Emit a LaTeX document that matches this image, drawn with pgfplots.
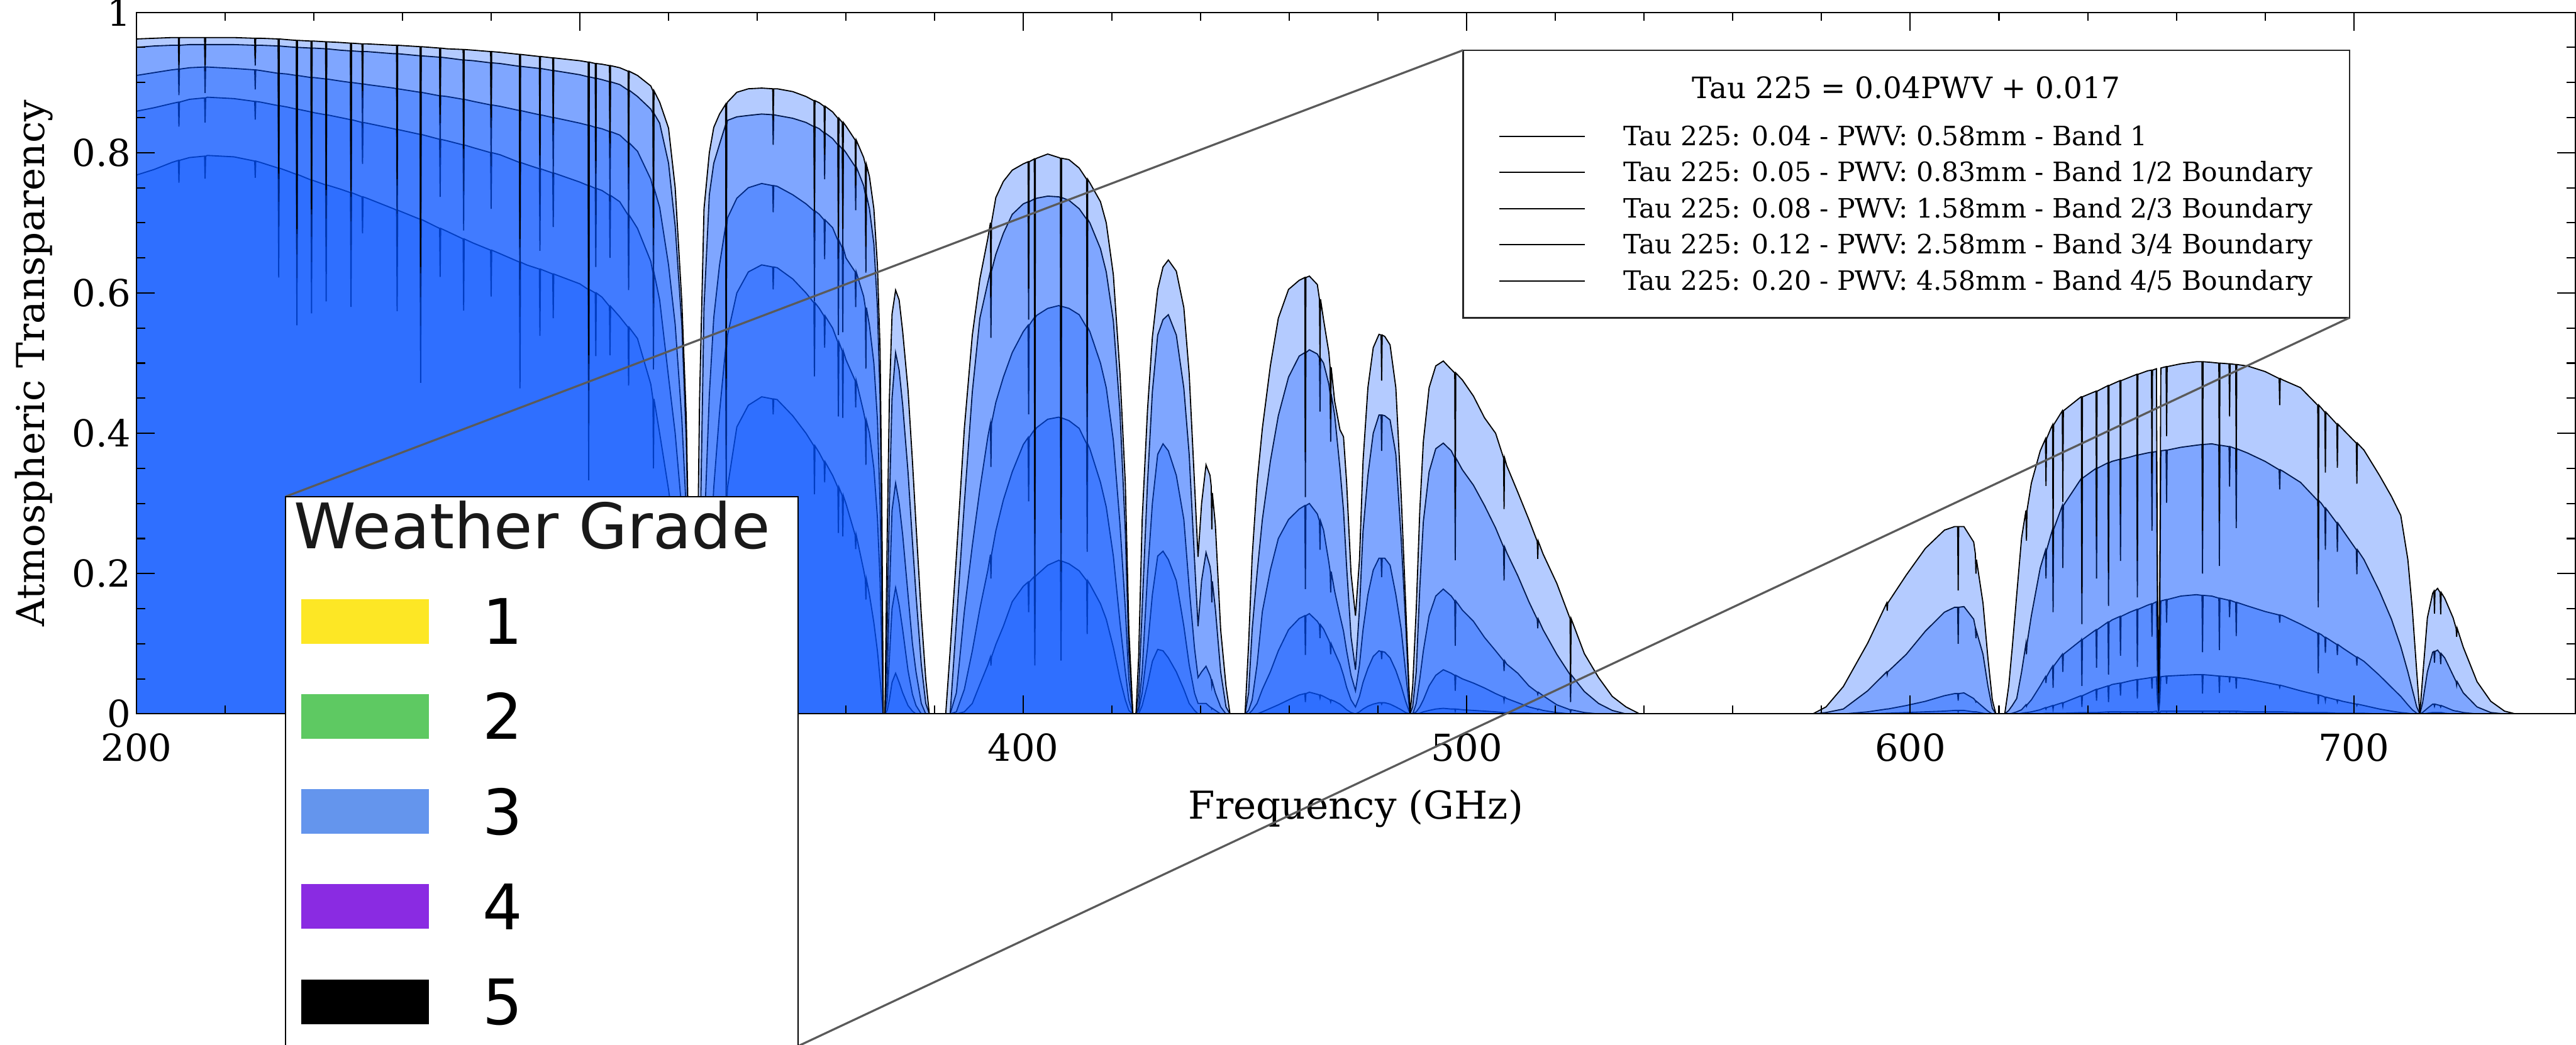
\documentclass[border=0pt]{standalone}
\usepackage{fontspec}
\setmainfont{DejaVu Serif}
\newfontfamily\insetfont{DejaVu Sans}
\usepackage{pgfplots}
\usepackage{pgfplotstable}
\pgfplotsset{compat=1.18}
\definecolor{fillblue}{RGB}{5,82,255}
\definecolor{zoomgray}{RGB}{90,90,90}
\definecolor{wgA}{RGB}{253,231,37}
\definecolor{wgB}{RGB}{94,201,98}
\definecolor{wgC}{RGB}{100,149,237}
\definecolor{wgD}{RGB}{138,43,226}
\pgfplotstableread{
f c1 c2 c3 c4 c5
200 0.962 0.950 0.910 0.859 0.768
204 0.963 0.952 0.914 0.864 0.776
208 0.964 0.953 0.918 0.870 0.786
209.48 0.964 0.953 0.919 0.872 0.789
209.6 0.925 0.915 0.882 0.837 0.757
209.72 0.964 0.953 0.919 0.872 0.789
212 0.964 0.954 0.921 0.876 0.793
215.38 0.964 0.954 0.922 0.878 0.795
215.5 0.925 0.916 0.885 0.843 0.763
215.62 0.964 0.954 0.922 0.878 0.795
216 0.964 0.954 0.922 0.879 0.796
222 0.964 0.954 0.920 0.877 0.794
226.68 0.963 0.953 0.918 0.873 0.788
226.8 0.934 0.924 0.890 0.847 0.764
226.92 0.963 0.953 0.918 0.873 0.788
228 0.963 0.953 0.917 0.872 0.786
231.98 0.962 0.952 0.913 0.867 0.778
232.1 0.770 0.762 0.730 0.694 0.622
232.22 0.962 0.952 0.913 0.867 0.778
234 0.961 0.951 0.912 0.865 0.774
236.08 0.960 0.950 0.910 0.862 0.769
236.2 0.691 0.684 0.655 0.621 0.554
236.32 0.960 0.950 0.910 0.862 0.769
239.38 0.959 0.949 0.907 0.858 0.761
239.5 0.719 0.712 0.680 0.644 0.571
239.62 0.959 0.949 0.907 0.858 0.761
240 0.959 0.949 0.907 0.857 0.760
242.68 0.958 0.948 0.905 0.854 0.754
242.8 0.747 0.739 0.706 0.666 0.588
242.92 0.958 0.948 0.905 0.854 0.754
246 0.957 0.946 0.902 0.850 0.748
248.28 0.956 0.945 0.900 0.847 0.743
248.4 0.746 0.737 0.702 0.661 0.580
248.52 0.956 0.945 0.900 0.847 0.743
250.88 0.955 0.944 0.898 0.843 0.737
251 0.888 0.878 0.835 0.784 0.685
251.12 0.955 0.944 0.898 0.843 0.737
252 0.955 0.944 0.897 0.842 0.735
258 0.953 0.941 0.892 0.834 0.720
258.68 0.953 0.941 0.891 0.833 0.718
258.8 0.762 0.753 0.713 0.666 0.574
258.92 0.953 0.941 0.891 0.833 0.718
263.98 0.951 0.938 0.886 0.826 0.705
264.1 0.637 0.628 0.594 0.553 0.472
264.22 0.951 0.938 0.886 0.826 0.705
268.38 0.949 0.936 0.881 0.819 0.692
268.5 0.854 0.842 0.793 0.737 0.623
268.62 0.949 0.936 0.881 0.819 0.692
270 0.948 0.935 0.880 0.817 0.688
273.68 0.947 0.932 0.876 0.811 0.677
273.8 0.805 0.792 0.745 0.689 0.575
273.92 0.947 0.932 0.876 0.811 0.677
276 0.946 0.931 0.873 0.807 0.671
279.88 0.944 0.928 0.868 0.800 0.661
280 0.850 0.835 0.781 0.720 0.595
280.12 0.944 0.928 0.868 0.800 0.661
282 0.943 0.927 0.866 0.797 0.656
286.38 0.940 0.923 0.860 0.786 0.644
286.5 0.677 0.665 0.619 0.566 0.464
286.62 0.940 0.923 0.860 0.786 0.644
288 0.939 0.922 0.858 0.783 0.640
290.88 0.937 0.920 0.854 0.777 0.634
291 0.796 0.782 0.726 0.660 0.539
291.12 0.937 0.920 0.854 0.777 0.634
293.88 0.935 0.917 0.850 0.771 0.627
294 0.842 0.825 0.765 0.694 0.564
294.12 0.935 0.917 0.850 0.771 0.627
300 0.931 0.911 0.842 0.758 0.613
301.88 0.929 0.908 0.839 0.753 0.605
302 0.511 0.499 0.461 0.414 0.333
302.12 0.929 0.908 0.839 0.753 0.605
303.48 0.927 0.906 0.836 0.749 0.600
303.6 0.788 0.770 0.711 0.637 0.510
303.72 0.927 0.906 0.836 0.749 0.600
305 0.926 0.904 0.834 0.746 0.594
306.68 0.924 0.901 0.830 0.739 0.581
306.8 0.813 0.793 0.730 0.650 0.511
306.92 0.924 0.901 0.830 0.739 0.581
309 0.921 0.897 0.825 0.730 0.566
310.88 0.916 0.889 0.814 0.711 0.551
311 0.779 0.756 0.692 0.604 0.468
311.12 0.916 0.889 0.814 0.711 0.551
313 0.910 0.880 0.802 0.692 0.535
316 0.895 0.862 0.762 0.645 0.470
316.48 0.888 0.856 0.750 0.629 0.449
316.6 0.693 0.668 0.585 0.491 0.350
316.72 0.888 0.856 0.750 0.629 0.449
318 0.872 0.842 0.722 0.590 0.400
320 0.835 0.785 0.640 0.480 0.320
321.5 0.750 0.695 0.555 0.400 0.250
323 0.587 0.554 0.420 0.290 0.160
324 0.422 0.389 0.290 0.180 0.090
324.8 0.157 0.140 0.100 0.060 0.030
325.3 0 0 0 0 0
326.1 0 0 0 0 0
327 0.450 0.200 0 0 0
328 0.720 0.580 0.250 0.030 0
329.2 0.800 0.740 0.455 0.200 0.020
330.2 0.836 0.785 0.565 0.323 0.058
331.5 0.855 0.812 0.640 0.430 0.180
332.88 0.869 0.840 0.696 0.522 0.299
333 0.478 0.462 0.383 0.287 0.164
333.12 0.869 0.840 0.696 0.522 0.299
333.3 0.872 0.846 0.707 0.540 0.323
335.4 0.886 0.851 0.735 0.600 0.409
338 0.891 0.853 0.750 0.630 0.440
341 0.892 0.855 0.756 0.640 0.452
343.48 0.891 0.854 0.753 0.637 0.449
343.6 0.846 0.811 0.715 0.605 0.427
343.72 0.891 0.854 0.753 0.637 0.449
344.5 0.891 0.853 0.752 0.636 0.448
348 0.887 0.849 0.740 0.620 0.425
351 0.880 0.843 0.727 0.600 0.400
352.78 0.874 0.837 0.717 0.586 0.382
352.9 0.717 0.686 0.588 0.481 0.313
353.02 0.874 0.837 0.717 0.586 0.382
354 0.871 0.834 0.712 0.578 0.372
355.08 0.866 0.828 0.704 0.567 0.359
355.2 0.797 0.762 0.648 0.522 0.330
355.32 0.866 0.828 0.704 0.567 0.359
357 0.858 0.820 0.693 0.550 0.340
358.18 0.849 0.811 0.675 0.530 0.323
358.3 0.679 0.649 0.540 0.424 0.258
358.42 0.849 0.811 0.675 0.530 0.323
359.18 0.843 0.805 0.664 0.517 0.311
359.3 0.691 0.660 0.544 0.422 0.253
359.42 0.843 0.805 0.664 0.517 0.311
360 0.838 0.800 0.650 0.505 0.300
362.08 0.818 0.780 0.630 0.475 0.255
362.2 0.753 0.718 0.580 0.437 0.235
362.32 0.818 0.780 0.630 0.475 0.255
364 0.793 0.753 0.595 0.430 0.205
364.38 0.783 0.740 0.579 0.418 0.192
364.5 0.666 0.629 0.492 0.355 0.163
364.62 0.783 0.740 0.579 0.418 0.192
365.3 0.766 0.720 0.554 0.400 0.170
366.3 0.720 0.670 0.500 0.350 0.130
367.1 0.640 0.580 0.420 0.280 0.090
367.7 0.520 0.450 0.300 0.190 0.050
368.1 0.300 0.250 0.160 0.090 0.020
368.4 0 0 0 0 0
368.8 0 0 0 0 0
369.3 0.250 0.120 0.050 0.020 0.005
369.8 0.450 0.300 0.170 0.080 0.020
370.4 0.570 0.450 0.290 0.150 0.045
371.2 0.604 0.515 0.329 0.180 0.058
372 0.590 0.490 0.300 0.155 0.045
372.8 0.545 0.440 0.255 0.120 0.030
374 0.462 0.345 0.170 0.062 0.012
375 0.360 0.245 0.100 0.028 0.004
375.8 0.270 0.170 0.060 0.012 0
377 0.140 0.070 0.015 0 0
378 0.050 0.015 0 0 0
378.8 0 0 0 0 0
382.5 0 0 0 0 0
383.5 0.090 0 0 0 0
384.9 0.224 0.130 0.030 0.003 0
386.7 0.407 0.300 0.146 0.035 0.003
388.5 0.540 0.459 0.240 0.090 0.015
390.2 0.620 0.564 0.320 0.150 0.042
392 0.678 0.615 0.395 0.205 0.070
392.58 0.700 0.631 0.414 0.227 0.081
392.7 0.595 0.536 0.352 0.193 0.069
392.82 0.700 0.631 0.414 0.227 0.081
393.8 0.736 0.655 0.444 0.261 0.099
395.5 0.759 0.685 0.480 0.305 0.125
397.5 0.775 0.712 0.515 0.345 0.160
400 0.784 0.727 0.545 0.384 0.182
401.08 0.787 0.730 0.554 0.394 0.188
401.2 0.606 0.562 0.427 0.303 0.145
401.32 0.787 0.730 0.554 0.394 0.188
402.48 0.791 0.734 0.565 0.405 0.196
402.6 0.277 0.257 0.198 0.142 0.069
402.72 0.791 0.734 0.565 0.405 0.196
403 0.792 0.735 0.568 0.408 0.198
405.5 0.798 0.738 0.578 0.420 0.212
408 0.793 0.737 0.582 0.423 0.219
408.38 0.792 0.736 0.581 0.422 0.218
408.5 0.277 0.258 0.203 0.148 0.076
408.62 0.792 0.736 0.581 0.422 0.218
410.3 0.790 0.732 0.578 0.418 0.214
412.6 0.778 0.720 0.569 0.407 0.204
414.28 0.762 0.705 0.551 0.385 0.190
414.4 0.457 0.423 0.331 0.231 0.114
414.52 0.762 0.705 0.551 0.385 0.190
415 0.757 0.700 0.545 0.378 0.185
417.4 0.730 0.663 0.500 0.330 0.157
418.7 0.700 0.630 0.465 0.295 0.135
420.3 0.626 0.560 0.390 0.225 0.095
421.8 0.485 0.430 0.270 0.130 0.050
423 0.329 0.260 0.150 0.060 0.020
423.8 0.120 0.090 0.050 0.020 0.005
424.7 0 0 0 0 0
425.4 0 0 0 0 0
426 0.080 0.030 0.010 0.005 0
426.8 0.277 0.150 0.060 0.030 0.012
428 0.433 0.329 0.198 0.094 0.042
429.1 0.537 0.459 0.300 0.170 0.075
430.3 0.605 0.540 0.370 0.225 0.092
431.5 0.637 0.562 0.385 0.232 0.090
432.7 0.647 0.569 0.375 0.220 0.080
434.5 0.631 0.540 0.340 0.190 0.060
436.2 0.579 0.464 0.277 0.125 0.035
437.4 0.485 0.370 0.180 0.070 0.015
438.6 0.329 0.220 0.094 0.030 0.005
439.4 0.224 0.125 0.052 0.015 0
440.2 0.300 0.190 0.060 0.015 0
441.2 0.355 0.230 0.068 0.015 0
442.1 0.340 0.210 0.055 0.010 0
442.38 0.324 0.196 0.049 0.009 0
442.5 0.263 0.159 0.040 0.007 0
442.62 0.315 0.189 0.046 0.008 0
443.3 0.270 0.150 0.030 0.005 0
444.5 0.120 0.060 0.010 0 0
445.7 0.040 0.010 0 0 0
446.6 0 0 0 0 0
450 0 0 0 0 0
450.8 0.100 0.030 0.005 0 0
451.6 0.224 0.120 0.020 0.005 0
452.7 0.329 0.200 0.070 0.015 0
453.9 0.407 0.277 0.146 0.035 0.003
455.7 0.496 0.360 0.205 0.060 0.008
457.5 0.564 0.425 0.250 0.090 0.013
459.8 0.605 0.480 0.277 0.120 0.020
462.2 0.618 0.510 0.292 0.136 0.027
463.48 0.622 0.515 0.297 0.140 0.029
463.6 0.373 0.309 0.178 0.084 0.017
463.72 0.622 0.515 0.297 0.140 0.029
464.5 0.624 0.519 0.300 0.143 0.031
466.3 0.612 0.513 0.285 0.132 0.028
466.78 0.591 0.507 0.275 0.127 0.027
466.9 0.502 0.431 0.234 0.108 0.023
467.02 0.591 0.507 0.275 0.127 0.027
467.7 0.562 0.500 0.262 0.121 0.025
468.9 0.515 0.470 0.216 0.105 0.021
469.18 0.494 0.456 0.203 0.100 0.020
469.3 0.420 0.388 0.173 0.085 0.017
469.42 0.494 0.456 0.203 0.100 0.020
470.2 0.446 0.426 0.175 0.088 0.018
471.4 0.405 0.350 0.140 0.071 0.014
472.2 0.395 0.290 0.118 0.055 0.010
472.9 0.330 0.210 0.090 0.038 0.006
473.9 0.200 0.110 0.055 0.020 0.002
474.9 0.140 0.063 0.033 0.010 0
475.8 0.220 0.150 0.070 0.025 0.003
476.6 0.360 0.260 0.120 0.045 0.007
477.7 0.465 0.340 0.170 0.065 0.011
478.9 0.522 0.400 0.205 0.082 0.014
480.2 0.541 0.426 0.222 0.090 0.016
480.68 0.540 0.426 0.222 0.089 0.016
480.8 0.475 0.375 0.195 0.078 0.014
480.92 0.540 0.426 0.222 0.089 0.016
481.5 0.538 0.425 0.222 0.088 0.016
482.7 0.526 0.419 0.212 0.080 0.014
484 0.465 0.370 0.170 0.062 0.010
485.2 0.312 0.250 0.121 0.040 0.006
486.2 0.159 0.130 0.060 0.018 0.002
487.2 0 0 0 0 0
487.8 0.040 0.010 0 0 0
488.6 0.150 0.060 0.015 0.003 0
489.4 0.290 0.180 0.050 0.010 0.001
490.2 0.388 0.274 0.090 0.020 0.003
491.5 0.465 0.345 0.140 0.040 0.005
493 0.496 0.378 0.168 0.055 0.007
494.7 0.503 0.386 0.178 0.063 0.008
496.5 0.491 0.375 0.168 0.058 0.007
497.28 0.486 0.365 0.161 0.055 0.007
497.4 0.292 0.219 0.097 0.033 0.004
497.52 0.486 0.365 0.161 0.055 0.007
499 0.476 0.348 0.148 0.050 0.006
501.5 0.453 0.326 0.132 0.044 0.005
504 0.422 0.297 0.109 0.037 0.004
506.5 0.400 0.265 0.090 0.029 0.003
508.28 0.365 0.238 0.076 0.024 0.002
508.4 0.292 0.190 0.061 0.019 0.002
508.52 0.365 0.238 0.076 0.024 0.002
509 0.354 0.230 0.071 0.022 0.002
511.5 0.316 0.197 0.058 0.016 0.001
514 0.277 0.160 0.040 0.010 0.001
515.88 0.246 0.135 0.031 0.007 0
516 0.221 0.122 0.028 0.006 0
516.12 0.246 0.135 0.031 0.007 0
517.2 0.228 0.120 0.026 0.005 0
520.3 0.186 0.085 0.013 0.002 0
523.28 0.136 0.056 0.006 0 0
523.4 0.041 0.017 0.002 0 0
523.52 0.136 0.056 0.006 0 0
526.5 0.086 0.032 0.002 0 0
529.7 0.052 0.015 0 0 0
532.8 0.025 0.005 0 0 0
535.9 0.010 0 0 0 0
539 0 0 0 0 0
578 0 0 0 0 0
581 0.010 0.002 0 0 0
584.9 0.039 0.007 0 0 0
590.4 0.101 0.033 0.003 0 0
594.68 0.158 0.060 0.007 0.001 0
594.8 0.147 0.056 0.007 0.001 0
594.92 0.158 0.060 0.007 0.001 0
599.1 0.198 0.085 0.012 0.002 0
603.4 0.236 0.118 0.018 0.003 0
607.7 0.262 0.145 0.026 0.004 0
610 0.267 0.152 0.029 0.005 0
610.68 0.267 0.152 0.029 0.005 0
610.8 0.176 0.100 0.019 0.003 0
610.92 0.267 0.152 0.029 0.005 0
612.1 0.267 0.153 0.030 0.005 0
614.3 0.245 0.135 0.022 0.003 0
614.68 0.228 0.123 0.019 0.003 0
614.8 0.200 0.108 0.017 0.003 0
614.92 0.220 0.118 0.018 0.003 0
616.4 0.158 0.085 0.010 0.001 0
617.5 0.080 0.040 0.004 0 0
618.5 0.020 0.008 0 0 0
619.3 0 0 0 0 0
621.3 0 0 0 0 0
622.2 0.040 0.005 0 0 0
623 0.095 0.012 0.001 0 0
624 0.170 0.022 0.003 0 0
625.1 0.251 0.060 0.006 0.001 0
626.08 0.290 0.100 0.013 0.002 0
626.2 0.247 0.085 0.011 0.002 0
626.32 0.290 0.100 0.013 0.002 0
627.3 0.329 0.140 0.020 0.003 0
629.3 0.375 0.208 0.040 0.006 0
630.48 0.392 0.233 0.053 0.009 0.001
630.6 0.325 0.193 0.044 0.007 0.001
630.72 0.392 0.233 0.053 0.009 0.001
631.7 0.407 0.255 0.064 0.011 0.001
632.08 0.412 0.263 0.068 0.012 0.001
632.2 0.227 0.145 0.037 0.007 0.001
632.32 0.412 0.263 0.068 0.012 0.001
634.28 0.432 0.297 0.085 0.016 0.001
634.4 0.302 0.208 0.060 0.011 0.001
634.52 0.432 0.297 0.085 0.016 0.001
638.5 0.452 0.335 0.105 0.026 0.002
638.58 0.452 0.336 0.106 0.026 0.002
638.7 0.172 0.128 0.040 0.010 0.001
638.82 0.452 0.336 0.106 0.026 0.002
641.88 0.460 0.350 0.120 0.035 0.002
642 0.253 0.193 0.066 0.019 0.001
642.12 0.460 0.350 0.120 0.035 0.002
644.58 0.468 0.358 0.131 0.040 0.003
644.7 0.201 0.154 0.056 0.017 0.001
644.82 0.468 0.358 0.131 0.040 0.003
645.5 0.470 0.360 0.134 0.042 0.003
647.28 0.475 0.363 0.139 0.044 0.003
647.4 0.285 0.218 0.083 0.026 0.002
647.52 0.475 0.363 0.139 0.044 0.003
649.5 0.480 0.366 0.145 0.047 0.003
651.08 0.484 0.369 0.149 0.049 0.003
651.2 0.218 0.166 0.067 0.022 0.001
651.32 0.484 0.369 0.149 0.049 0.003
653.5 0.489 0.372 0.155 0.051 0.003
654.38 0.490 0.373 0.157 0.052 0.003
654.5 0.343 0.261 0.110 0.036 0.002
654.62 0.490 0.373 0.157 0.052 0.003
655.5 0.492 0.374 0.160 0.053 0.004
655.75 0.180 0.130 0.050 0.018 0.002
656 0.030 0.015 0.005 0.002 0
656.25 0.180 0.130 0.050 0.018 0.002
656.5 0.493 0.375 0.161 0.053 0.004
657.68 0.495 0.376 0.163 0.054 0.004
657.8 0.396 0.301 0.130 0.043 0.003
657.92 0.495 0.376 0.163 0.054 0.004
661 0.499 0.380 0.168 0.055 0.004
664.5 0.502 0.383 0.170 0.056 0.004
665.78 0.502 0.384 0.169 0.056 0.004
665.9 0.261 0.200 0.088 0.029 0.002
666.02 0.502 0.384 0.169 0.056 0.004
668 0.501 0.385 0.168 0.055 0.004
669.58 0.500 0.383 0.165 0.054 0.004
669.7 0.275 0.211 0.091 0.030 0.002
669.82 0.500 0.383 0.165 0.054 0.004
671.88 0.499 0.381 0.162 0.053 0.004
672 0.424 0.324 0.138 0.045 0.003
672.12 0.499 0.381 0.162 0.053 0.004
673.38 0.498 0.378 0.159 0.052 0.004
673.5 0.349 0.265 0.111 0.036 0.003
673.62 0.498 0.378 0.159 0.052 0.004
676 0.496 0.372 0.154 0.050 0.003
680 0.488 0.360 0.146 0.045 0.003
683.18 0.478 0.348 0.141 0.041 0.003
683.3 0.440 0.320 0.130 0.038 0.003
683.42 0.478 0.348 0.141 0.041 0.003
684 0.476 0.346 0.140 0.040 0.003
688 0.465 0.330 0.128 0.033 0.002
691.88 0.440 0.304 0.115 0.027 0.002
692 0.220 0.152 0.058 0.014 0.001
692.12 0.440 0.304 0.115 0.027 0.002
692.7 0.436 0.300 0.113 0.026 0.002
693.48 0.430 0.293 0.109 0.024 0.002
693.6 0.344 0.234 0.087 0.019 0.002
693.72 0.430 0.293 0.109 0.024 0.002
696.18 0.413 0.272 0.099 0.020 0.001
696.3 0.351 0.231 0.084 0.017 0.001
696.42 0.413 0.272 0.099 0.020 0.001
697.5 0.406 0.262 0.094 0.018 0.001
700.58 0.386 0.234 0.081 0.014 0.001
700.7 0.328 0.199 0.069 0.012 0.001
700.82 0.386 0.234 0.081 0.014 0.001
702.3 0.376 0.220 0.075 0.012 0.001
705.8 0.340 0.175 0.055 0.007 0
708.5 0.310 0.135 0.038 0.004 0
710.6 0.283 0.096 0.025 0.002 0
712.2 0.220 0.060 0.013 0.001 0
713.2 0.150 0.035 0.006 0 0
714.2 0.060 0.010 0.001 0 0
714.9 0 0 0 0 0
715.5 0.050 0.015 0.002 0 0
716.6 0.137 0.060 0.008 0.001 0
717.8 0.172 0.088 0.014 0.002 0
718.08 0.175 0.089 0.014 0.002 0
718.2 0.143 0.073 0.011 0.002 0
718.32 0.175 0.089 0.014 0.002 0
718.9 0.179 0.091 0.013 0.002 0
719.48 0.173 0.086 0.012 0.002 0
719.6 0.142 0.071 0.010 0.002 0
719.72 0.173 0.086 0.012 0.002 0
720.5 0.165 0.080 0.010 0.001 0
722.4 0.137 0.055 0.005 0 0
723.08 0.122 0.046 0.004 0 0
723.2 0.110 0.041 0.004 0 0
723.32 0.122 0.046 0.004 0 0
724.7 0.095 0.030 0.002 0 0
727.8 0.046 0.010 0 0 0
730.9 0.018 0.002 0 0 0
734 0.004 0 0 0 0
736.5 0 0 0 0 0
750 0 0 0 0 0
}\atm
\begin{document}
\begin{tikzpicture}
\path[use as bounding box] (0,0) rectangle (1005pt,407.6pt);
\clip (0,0) rectangle (1005pt,407.6pt);
\begin{axis}[
  at={(53.2pt,129pt)}, anchor=south west,
  scale only axis, width=951.6pt, height=273.8pt,
  xmin=200, xmax=750, ymin=0, ymax=1,
  xtick={200,300,400,500,600,700}, xticklabels={200,300,400,500,600,700},
  ytick={0,0.2,0.4,0.6,0.8,1}, yticklabels={0,0.2,0.4,0.6,0.8,1},
  minor x tick num=4, minor y tick num=3,
  tick align=inside, xtick pos=both, ytick pos=both,
  major tick length=7.2pt, minor tick length=3.4pt,
  every tick/.style={black, line width=0.5pt},
  axis line style={black, line width=0.5pt},
  axis on top,
  tick label style={font=\fontsize{14.5}{17}\selectfont},
  /pgf/number format/assume math mode=true,
  xticklabel style={yshift=-4.2pt},
  yticklabel style={xshift=1.5pt},
  xlabel={Frequency (GHz)}, ylabel={Atmospheric Transparency},
  label style={font=\fontsize{15}{18}\selectfont},
  xlabel style={at={(axis description cs:0.5,-0.15)}, anchor=base},
  ylabel style={at={(axis description cs:-0.0378,0.5)}, anchor=base},
]
\addplot[draw=black, line width=0.45pt, fill=fillblue, fill opacity=0.3, mark=none] table[x=f,y=c5] {\atm} \closedcycle;
\addplot[draw=black, line width=0.45pt, fill=fillblue, fill opacity=0.3, mark=none] table[x=f,y=c4] {\atm} \closedcycle;
\addplot[draw=black, line width=0.45pt, fill=fillblue, fill opacity=0.3, mark=none] table[x=f,y=c3] {\atm} \closedcycle;
\addplot[draw=black, line width=0.45pt, fill=fillblue, fill opacity=0.3, mark=none] table[x=f,y=c2] {\atm} \closedcycle;
\addplot[draw=black, line width=0.45pt, fill=fillblue, fill opacity=0.3, mark=none] table[x=f,y=c1] {\atm} \closedcycle;
\end{axis}
% legend box
\draw[black!85, line width=0.6pt, fill=white] (570.8pt,283.6pt) rectangle (916.6pt,388pt);
\node[anchor=base, inner sep=0pt, font=\fontsize{11.5}{14}\selectfont] at (743.7pt,369.2pt) {Tau 225 = 0.04PWV + 0.017};
\begin{scope}[font=\fontsize{10.4}{12.4}\selectfont]
\draw[black, line width=0.5pt] (585pt,354.4pt) -- (618.2pt,354.4pt);
\node[anchor=base west, inner sep=0pt] at (633.2pt,350.8pt) {Tau 225: 0.04 - PWV: 0.58mm - Band 1};
\draw[black, line width=0.5pt] (585pt,340.3pt) -- (618.2pt,340.3pt);
\node[anchor=base west, inner sep=0pt] at (633.2pt,336.7pt) {Tau 225: 0.05 - PWV: 0.83mm - Band 1/2 Boundary};
\draw[black, line width=0.5pt] (585pt,326.2pt) -- (618.2pt,326.2pt);
\node[anchor=base west, inner sep=0pt] at (633.2pt,322.6pt) {Tau 225: 0.08 - PWV: 1.58mm - Band 2/3 Boundary};
\draw[black, line width=0.5pt] (585pt,312.1pt) -- (618.2pt,312.1pt);
\node[anchor=base west, inner sep=0pt] at (633.2pt,308.5pt) {Tau 225: 0.12 - PWV: 2.58mm - Band 3/4 Boundary};
\draw[black, line width=0.5pt] (585pt,298.0pt) -- (618.2pt,298.0pt);
\node[anchor=base west, inner sep=0pt] at (633.2pt,294.4pt) {Tau 225: 0.20 - PWV: 4.58mm - Band 4/5 Boundary};
\end{scope}
% zoom connector lines
\draw[zoomgray, line width=0.8pt] (111.4pt,213.8pt) -- (570.8pt,388pt);
\draw[zoomgray, line width=0.8pt] (311.4pt,-0.6pt) -- (916.6pt,283.6pt);
% weather grade inset
\draw[black, line width=0.5pt, fill=white] (111.4pt,-0.6pt) rectangle (311.4pt,213.8pt);
\node[anchor=base west, inner sep=0pt, font=\insetfont\fontsize{24.5}{29}\selectfont, text=black!90] at (114.6pt,193.6pt) {Weather Grade};
\fill[wgA] (117.6pt,156.4pt) rectangle (167.4pt,173.8pt);
\fill[wgB] (117.6pt,119.3pt) rectangle (167.4pt,136.7pt);
\fill[wgC] (117.6pt,82.2pt) rectangle (167.4pt,99.6pt);
\fill[wgD] (117.6pt,45.1pt) rectangle (167.4pt,62.5pt);
\fill[black] (117.6pt,8.0pt) rectangle (167.4pt,25.4pt);
\begin{scope}[font=\insetfont\fontsize{24.5}{29}\selectfont]
\node[anchor=base, inner sep=0pt] at (196pt,156.2pt) {1};
\node[anchor=base, inner sep=0pt] at (196pt,119.1pt) {2};
\node[anchor=base, inner sep=0pt] at (196pt,82.0pt) {3};
\node[anchor=base, inner sep=0pt] at (196pt,44.9pt) {4};
\node[anchor=base, inner sep=0pt] at (196pt,7.8pt) {5};
\end{scope}
\end{tikzpicture}
\end{document}
